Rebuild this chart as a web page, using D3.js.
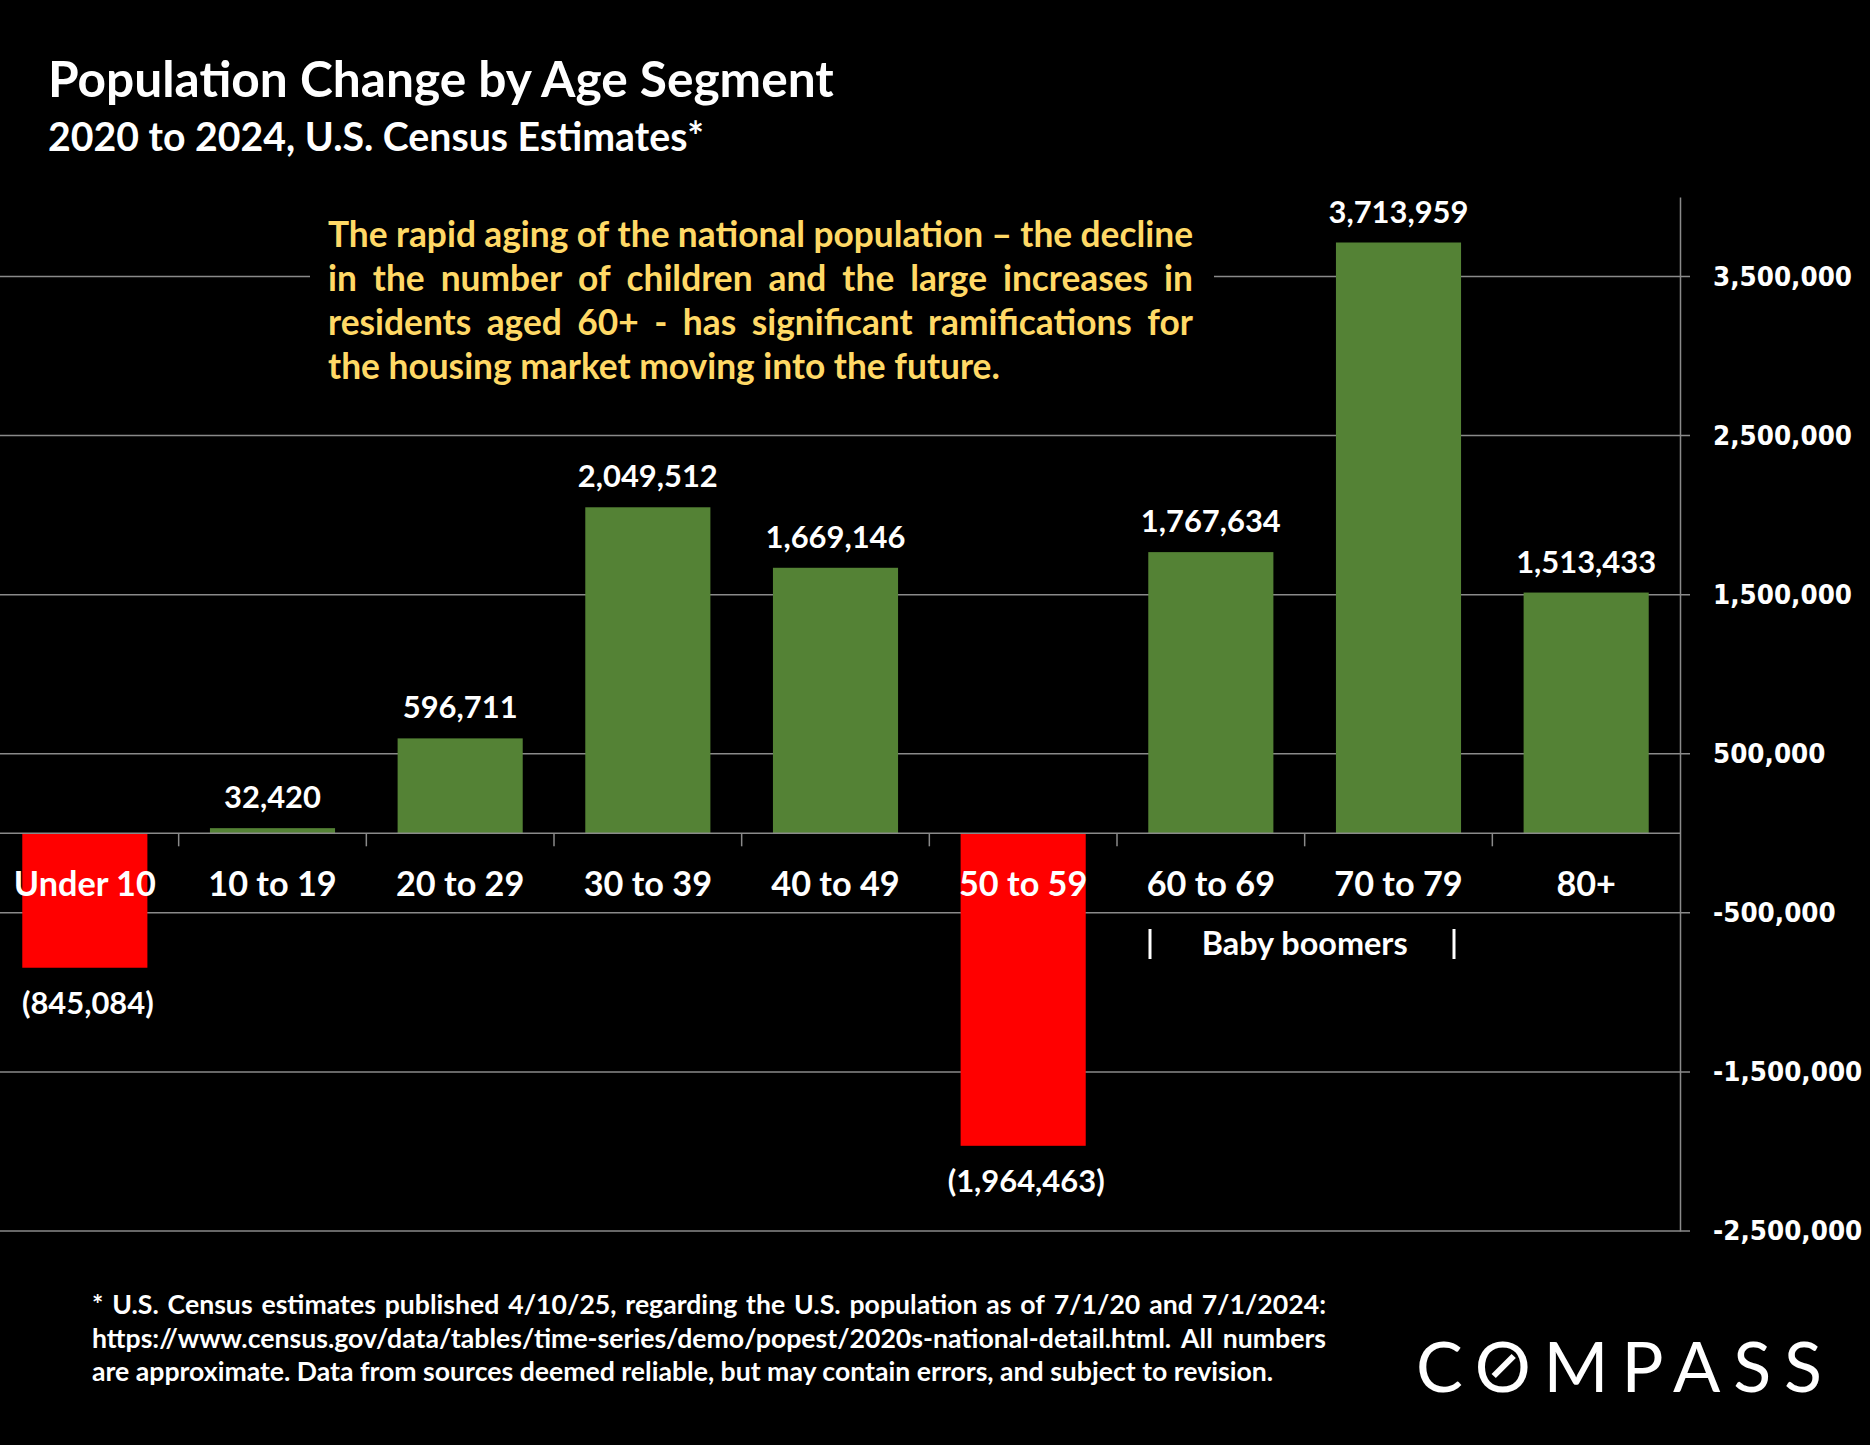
<!DOCTYPE html>
<html><head><meta charset="utf-8">
<script src="https://cdn.jsdelivr.net/npm/d3@7"></script>
<style>body{margin:0;background:#000;} svg{display:block}</style>
</head><body>
<svg id="c" width="1870" height="1445"></svg>
<script>
// ---------- data ----------
const categories = ["Under 10","10 to 19","20 to 29","30 to 39","40 to 49","50 to 59","60 to 69","70 to 79","80+"];
const values = [-845084, 32420, 596711, 2049512, 1669146, -1964463, 1767634, 3713959, 1513433];
const yTickValues = [-2500000, -1500000, -500000, 500000, 1500000, 2500000, 3500000];
const yDomain = [-2500000, 4000000];
const titleText = "Population Change by Age Segment";
const subtitleText = "2020 to 2024, U.S. Census Estimates*";
const noteLines = [
  "The rapid aging of the national population \u2013 the decline",
  "in the number of children and the large increases in",
  "residents aged 60+ - has significant ramifications for",
  "the housing market moving into the future."
];
const footLines = [
  "* U.S. Census estimates published 4/10/25, regarding the U.S. population as of 7/1/20 and 7/1/2024:",
  "https://www.census.gov/data/tables/time-series/demo/popest/2020s-national-detail.html. All numbers",
  "are approximate. Data from sources deemed reliable, but may contain errors, and subject to revision."
];
const boomerLabel = "Baby boomers";
const logoText = "COMPASS";

// ---------- setup ----------
const W = 1870, H = 1445;
const svg = d3.select("#c");
svg.append("rect").attr("width", W).attr("height", H).attr("fill", "#000");
const SANS = "Lato, 'Open Sans', sans-serif";
const GRID = "#8a8a8a";

function fitSize(sel, target) {
  sel.attr("font-size", 100);
  const w = sel.node().getComputedTextLength();
  const fs = 100 * target / w;
  sel.attr("font-size", fs);
  return fs;
}

const x = d3.scaleBand().domain(categories).range([-9, 1680]).paddingInner(1/3).paddingOuter(1/6);
const y = d3.scaleLinear().domain(yDomain).range([1231, 197]);
const axisX = 1680;

// gridlines
svg.append("g").selectAll("line").data(yTickValues).join("line")
  .attr("x1", 0).attr("x2", axisX + 10)
  .attr("y1", d => y(d)).attr("y2", d => y(d))
  .attr("stroke", GRID).attr("stroke-width", 1.5);

// bars
svg.append("g").selectAll("rect").data(values).join("rect")
  .attr("x", (d, i) => x(categories[i]))
  .attr("width", x.bandwidth())
  .attr("y", d => y(Math.max(0, d)))
  .attr("height", d => Math.abs(y(d) - y(0)))
  .attr("fill", d => d < 0 ? "#ff0000" : "#548235");

// zero (category) axis line
svg.append("line").attr("x1", 0).attr("x2", axisX)
  .attr("y1", y(0)).attr("y2", y(0))
  .attr("stroke", GRID).attr("stroke-width", 1.5);

// category boundary ticks
const step = x.step();
const gap = step - x.bandwidth();
svg.append("g").selectAll("line").data(categories.slice(1)).join("line")
  .attr("x1", d => x(d) - gap / 2).attr("x2", d => x(d) - gap / 2)
  .attr("y1", y(0)).attr("y2", y(0) + 13)
  .attr("stroke", GRID).attr("stroke-width", 1.5);

// right value axis
const commaFmt = d3.format(",");
const yAxis = d3.axisRight(y).tickValues(yTickValues).tickSize(0).tickPadding(33)
  .tickFormat(d => (d < 0 ? "-" : "") + commaFmt(Math.abs(d)));
const ag = svg.append("g").attr("transform", `translate(${axisX},0)`).call(yAxis);
ag.select(".domain").attr("stroke", GRID).attr("stroke-width", 1.5);
ag.selectAll("text").attr("fill", "#fff")
  .attr("font-family", "'DejaVu Sans Condensed', 'DejaVu Sans', Verdana, sans-serif")
  .attr("font-weight", "bold");
{
  const t = ag.selectAll("text").filter(d => d === 3500000);
  const fs = fitSize(t, 139);
  ag.selectAll("text").attr("font-size", fs);
}

// value labels
const fmt = d3.format(",");
const vl = svg.append("g").selectAll("text").data(values).join("text")
  .attr("x", (d, i) => x(categories[i]) + x.bandwidth() / 2 + (d < 0 ? 3 : 0))
  .attr("y", d => d < 0 ? y(d) + 46 : y(d) - 20)
  .attr("text-anchor", "middle").attr("fill", "#fff")
  .attr("font-family", SANS).attr("font-weight", "bold")
  .text(d => d < 0 ? `(${fmt(-d)})` : fmt(d));
{
  const fs = fitSize(vl.filter(d => d === 3713959), 140);
  vl.attr("font-size", fs);
}

// category labels
const cl = svg.append("g").selectAll("text").data(categories).join("text")
  .attr("x", d => x(d) + x.bandwidth() / 2)
  .attr("y", 896)
  .attr("text-anchor", "middle").attr("fill", "#fff")
  .attr("font-family", SANS).attr("font-weight", "bold")
  .text(d => d);
const catFs = fitSize(cl.filter((d, i) => i === 0), 142);
cl.attr("font-size", catFs);

// baby boomers bracket label
const bb = svg.append("g").attr("fill", "#fff").attr("font-family", SANS).attr("font-weight", "bold");
const bbCenter = (x(categories[6]) + x(categories[7]) + x.bandwidth()) / 2;
const bbt = bb.append("text").attr("x", bbCenter).attr("y", 955).attr("text-anchor", "middle").text(boomerLabel);
fitSize(bbt, 206);
bb.append("line").attr("x1", 1150).attr("x2", 1150).attr("y1", 929).attr("y2", 959)
  .attr("stroke", "#fff").attr("stroke-width", 3);
bb.append("line").attr("x1", 1454).attr("x2", 1454).attr("y1", 929).attr("y2", 959)
  .attr("stroke", "#fff").attr("stroke-width", 3);

// title / subtitle
const tt = svg.append("text").attr("x", 48).attr("y", 97).attr("fill", "#fff")
  .attr("font-family", SANS).attr("font-weight", "bold").text(titleText);
fitSize(tt, 786);
const st = svg.append("text").attr("x", 48).attr("y", 151).attr("fill", "#fff")
  .attr("font-family", SANS).attr("font-weight", "bold").text(subtitleText);
fitSize(st, 656);

// justified paragraph helper (each word its own text element)
function paragraph(lines, x0, target, lastWidth, baseY, lineH, color, weight) {
  const g = svg.append("g").attr("fill", color).attr("font-family", SANS).attr("font-weight", weight);
  const last = g.append("text").attr("x", x0).attr("y", baseY + lineH * (lines.length - 1))
    .text(lines[lines.length - 1]);
  const fs = fitSize(last, lastWidth);
  g.attr("font-size", fs); last.attr("font-size", null);
  lines.slice(0, -1).forEach((ln, li) => {
    const words = ln.split(" ");
    const lg = g.append("g");
    const ts = words.map(w => lg.append("text").attr("y", baseY + lineH * li).text(w));
    const widths = ts.map(s => s.node().getComputedTextLength());
    const tot = d3.sum(widths);
    const sp = (target - tot) / (words.length - 1);
    let cx = x0;
    ts.forEach((s, i) => { s.attr("x", cx); cx += widths[i] + sp; });
  });
  return g;
}

// annotation box
svg.append("rect").attr("x", 310).attr("y", 200).attr("width", 904).attr("height", 190).attr("fill", "#000");
paragraph(noteLines, 328, 865, 672, 247, 44, "#ffd966", "bold");

// footnote
paragraph(footLines, 92, 1234, 1182, 1314, 33.5, "#fff", "bold");

// logo
const lg = svg.append("text").attr("x", 1416).attr("y", 1392).attr("fill", "#fff")
  .attr("font-family", "Lato, 'Noto Sans', sans-serif").attr("font-weight", "normal")
  .attr("font-size", 70).attr("textLength", 406).attr("lengthAdjust", "spacing")
  .text(logoText);
try {
  const e = lg.node().getExtentOfChar(1);
  const cx = e.x + e.width / 2, cy = 1366;
  svg.append("line").attr("x1", cx - 9).attr("y1", cy + 10).attr("x2", cx + 11).attr("y2", cy - 10)
    .attr("stroke", "#fff").attr("stroke-width", 6);
} catch (err) {}
</script>
</body></html>
